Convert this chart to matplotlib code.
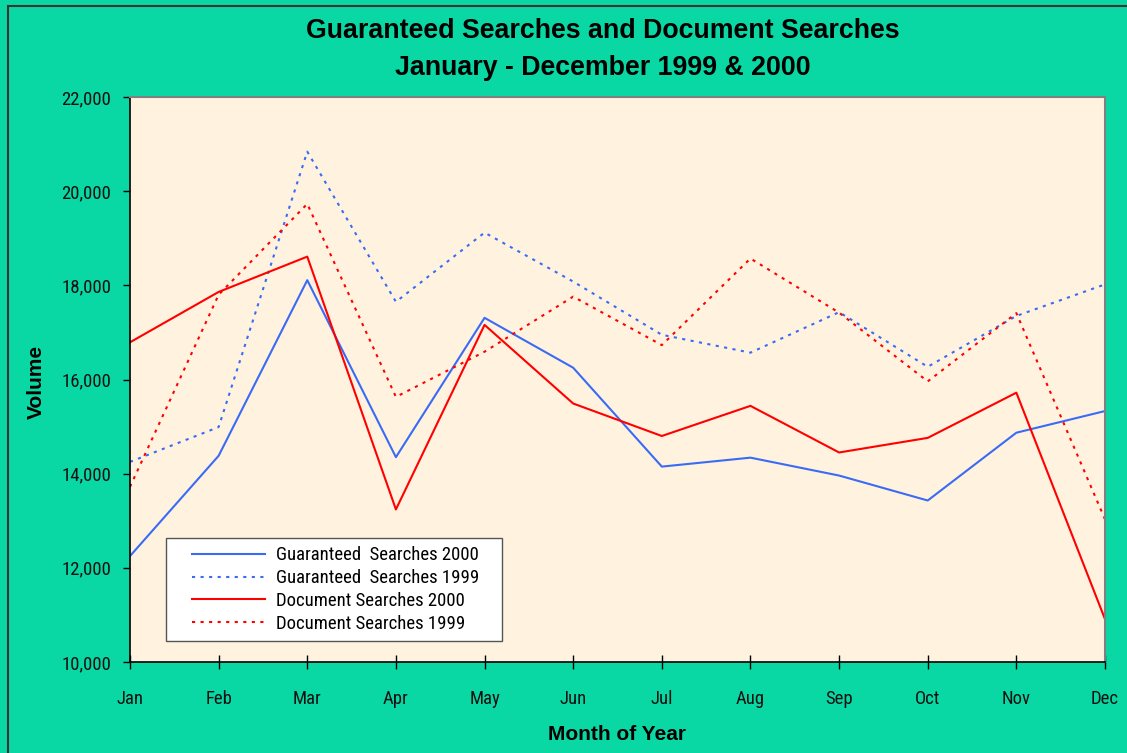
import matplotlib
matplotlib.use("Agg")
import matplotlib.pyplot as plt
from matplotlib import font_manager
from matplotlib.font_manager import FontProperties
from matplotlib.patches import Rectangle
from matplotlib.ticker import FuncFormatter
from matplotlib.legend_handler import HandlerLine2D

months = ["Jan", "Feb", "Mar", "Apr", "May", "Jun", "Jul", "Aug", "Sep", "Oct", "Nov", "Dec"]
guaranteed_2000 = [12250, 14380, 18110, 14350, 17310, 16250, 14150, 14340, 13960, 13430, 14870, 15330]
guaranteed_1999 = [14250, 14990, 20840, 17650, 19120, 18080, 16950, 16570, 17430, 16270, 17350, 18020]
document_2000 = [16790, 17860, 18610, 13240, 17160, 15490, 14800, 15440, 14450, 14760, 15720, 10910]
document_1999 = [13720, 17800, 19730, 15630, 16590, 17760, 16730, 18570, 17420, 15960, 17410, 13030]


def find_narrow():
    prefs = ["Liberation Sans Narrow", "Arial Narrow", "Roboto Condensed", "Open Sans Condensed",
             "DejaVu Sans Condensed", "Noto Sans Condensed"]
    fl = font_manager.fontManager.ttflist
    for p in prefs:
        for f in fl:
            if f.name == p and f.style == "normal" and f.weight in (400, "normal", "regular"):
                return FontProperties(fname=f.fname), True
    for f in fl:
        if f.stretch in ("condensed", "semi-condensed") and f.style == "normal" \
                and f.weight in (400, "normal", "regular"):
            return FontProperties(fname=f.fname), True
    return FontProperties(family="Liberation Sans"), False


narrow_fp, is_narrow = find_narrow()
TICK_SIZE = 13.5 if is_narrow else 12.3
LEG_SIZE = 13.5 if is_narrow else 12.0
BOLD = "Liberation Sans"

GREEN = "#0AD8A4"
CREAM = "#FFF3E0"
BLUE = "#3A6BF5"
RED = "#FF0000"


class OffsetLineHandler(HandlerLine2D):
    """Legend line that starts a little to the right of the handle box."""
    def create_artists(self, legend, orig_handle, xdescent, ydescent, width, height, fontsize, trans):
        arts = super().create_artists(legend, orig_handle, xdescent, ydescent, width, height,
                                      fontsize, trans)
        for a in arts:
            xd = list(a.get_xdata())
            if len(xd) >= 2:
                x0, x1 = min(xd), max(xd)
                nx0 = x0 + 0.19 * (x1 - x0)
                a.set_xdata([nx0 + (v - x0) * (x1 - nx0) / (x1 - x0) for v in xd])
        return arts


W, H = 1127, 753
fig = plt.figure(figsize=(W / 100, H / 100), dpi=100, facecolor=GREEN)
ax = fig.add_axes([130 / W, 1 - 662 / H, (1105 - 130) / W, (662 - 97) / H])
ax.set_facecolor(CREAM)

x = list(range(len(months)))
ax.plot(x, guaranteed_2000, color=BLUE, lw=1.5, label="Guaranteed  Searches 2000")
ax.plot(x, guaranteed_1999, color=BLUE, lw=1.5, dashes=(1.5, 2.6), label="Guaranteed  Searches 1999")
ax.plot(x, document_2000, color=RED, lw=1.5, label="Document Searches 2000")
ax.plot(x, document_1999, color=RED, lw=1.5, dashes=(1.5, 2.6), label="Document Searches 1999")

ax.set_xlim(0, 11)
ax.set_ylim(10000, 22000)
ax.set_xticks(x)
ax.set_xticklabels(months)
ax.set_yticks(range(10000, 22001, 2000))
ax.yaxis.set_major_formatter(FuncFormatter(lambda v, p: f"{int(v):,}"))

ax.tick_params(axis="y", direction="out", length=5, width=1, pad=8.5)
ax.tick_params(axis="x", direction="inout", length=10, width=1, pad=15)
for lab in ax.get_xticklabels() + ax.get_yticklabels():
    lab.set_fontproperties(narrow_fp)
    lab.set_fontsize(TICK_SIZE)
    lab.set_color("#111111")

for s in ["top", "right"]:
    ax.spines[s].set_color("#808080")
    ax.spines[s].set_linewidth(1.5)
for s in ["left", "bottom"]:
    ax.spines[s].set_color("#000000")
    ax.spines[s].set_linewidth(1.2)

leg_fp = narrow_fp.copy()
leg_fp.set_size(LEG_SIZE)
handles, labels = ax.get_legend_handles_labels()
leg = ax.legend(handles, labels, loc="lower left",
                bbox_to_anchor=(0.0369, 0.0372, (502 - 166) / 975, (641 - 538) / 565),
                mode="expand", frameon=True,
                fancybox=False, prop=leg_fp,
                handlelength=4.83, handletextpad=0.59, labelspacing=0.25,
                borderpad=0.45, borderaxespad=0,
                handler_map={h: OffsetLineHandler() for h in handles})
leg.get_frame().set_edgecolor("#555555")
leg.get_frame().set_linewidth(1.0)
leg.get_frame().set_facecolor("white")
leg.get_frame().set_alpha(1)

fig.text(602.5 / W, 1 - 31 / H, "Guaranteed Searches and Document Searches",
         ha="center", va="center", fontsize=19.3, fontweight="bold", family=BOLD)
fig.text(602.5 / W, 1 - 68 / H, "January - December 1999 & 2000",
         ha="center", va="center", fontsize=19.3, fontweight="bold", family=BOLD)
fig.text(36.5 / W, 1 - 382 / H, "Volume", rotation=90, ha="center", va="center",
         fontsize=15, fontweight="bold", family=BOLD)
fig.text(617 / W, 1 - 735 / H, "Month of Year", ha="center", va="center",
         fontsize=15, fontweight="bold", family=BOLD)

fig.patches.append(Rectangle((8 / W, -0.1), 1.2, 1 - 6 / H + 0.1, transform=fig.transFigure,
                             fill=False, edgecolor="#333333", linewidth=1.5))

fig.savefig("out.png", dpi=100, facecolor=GREEN)
